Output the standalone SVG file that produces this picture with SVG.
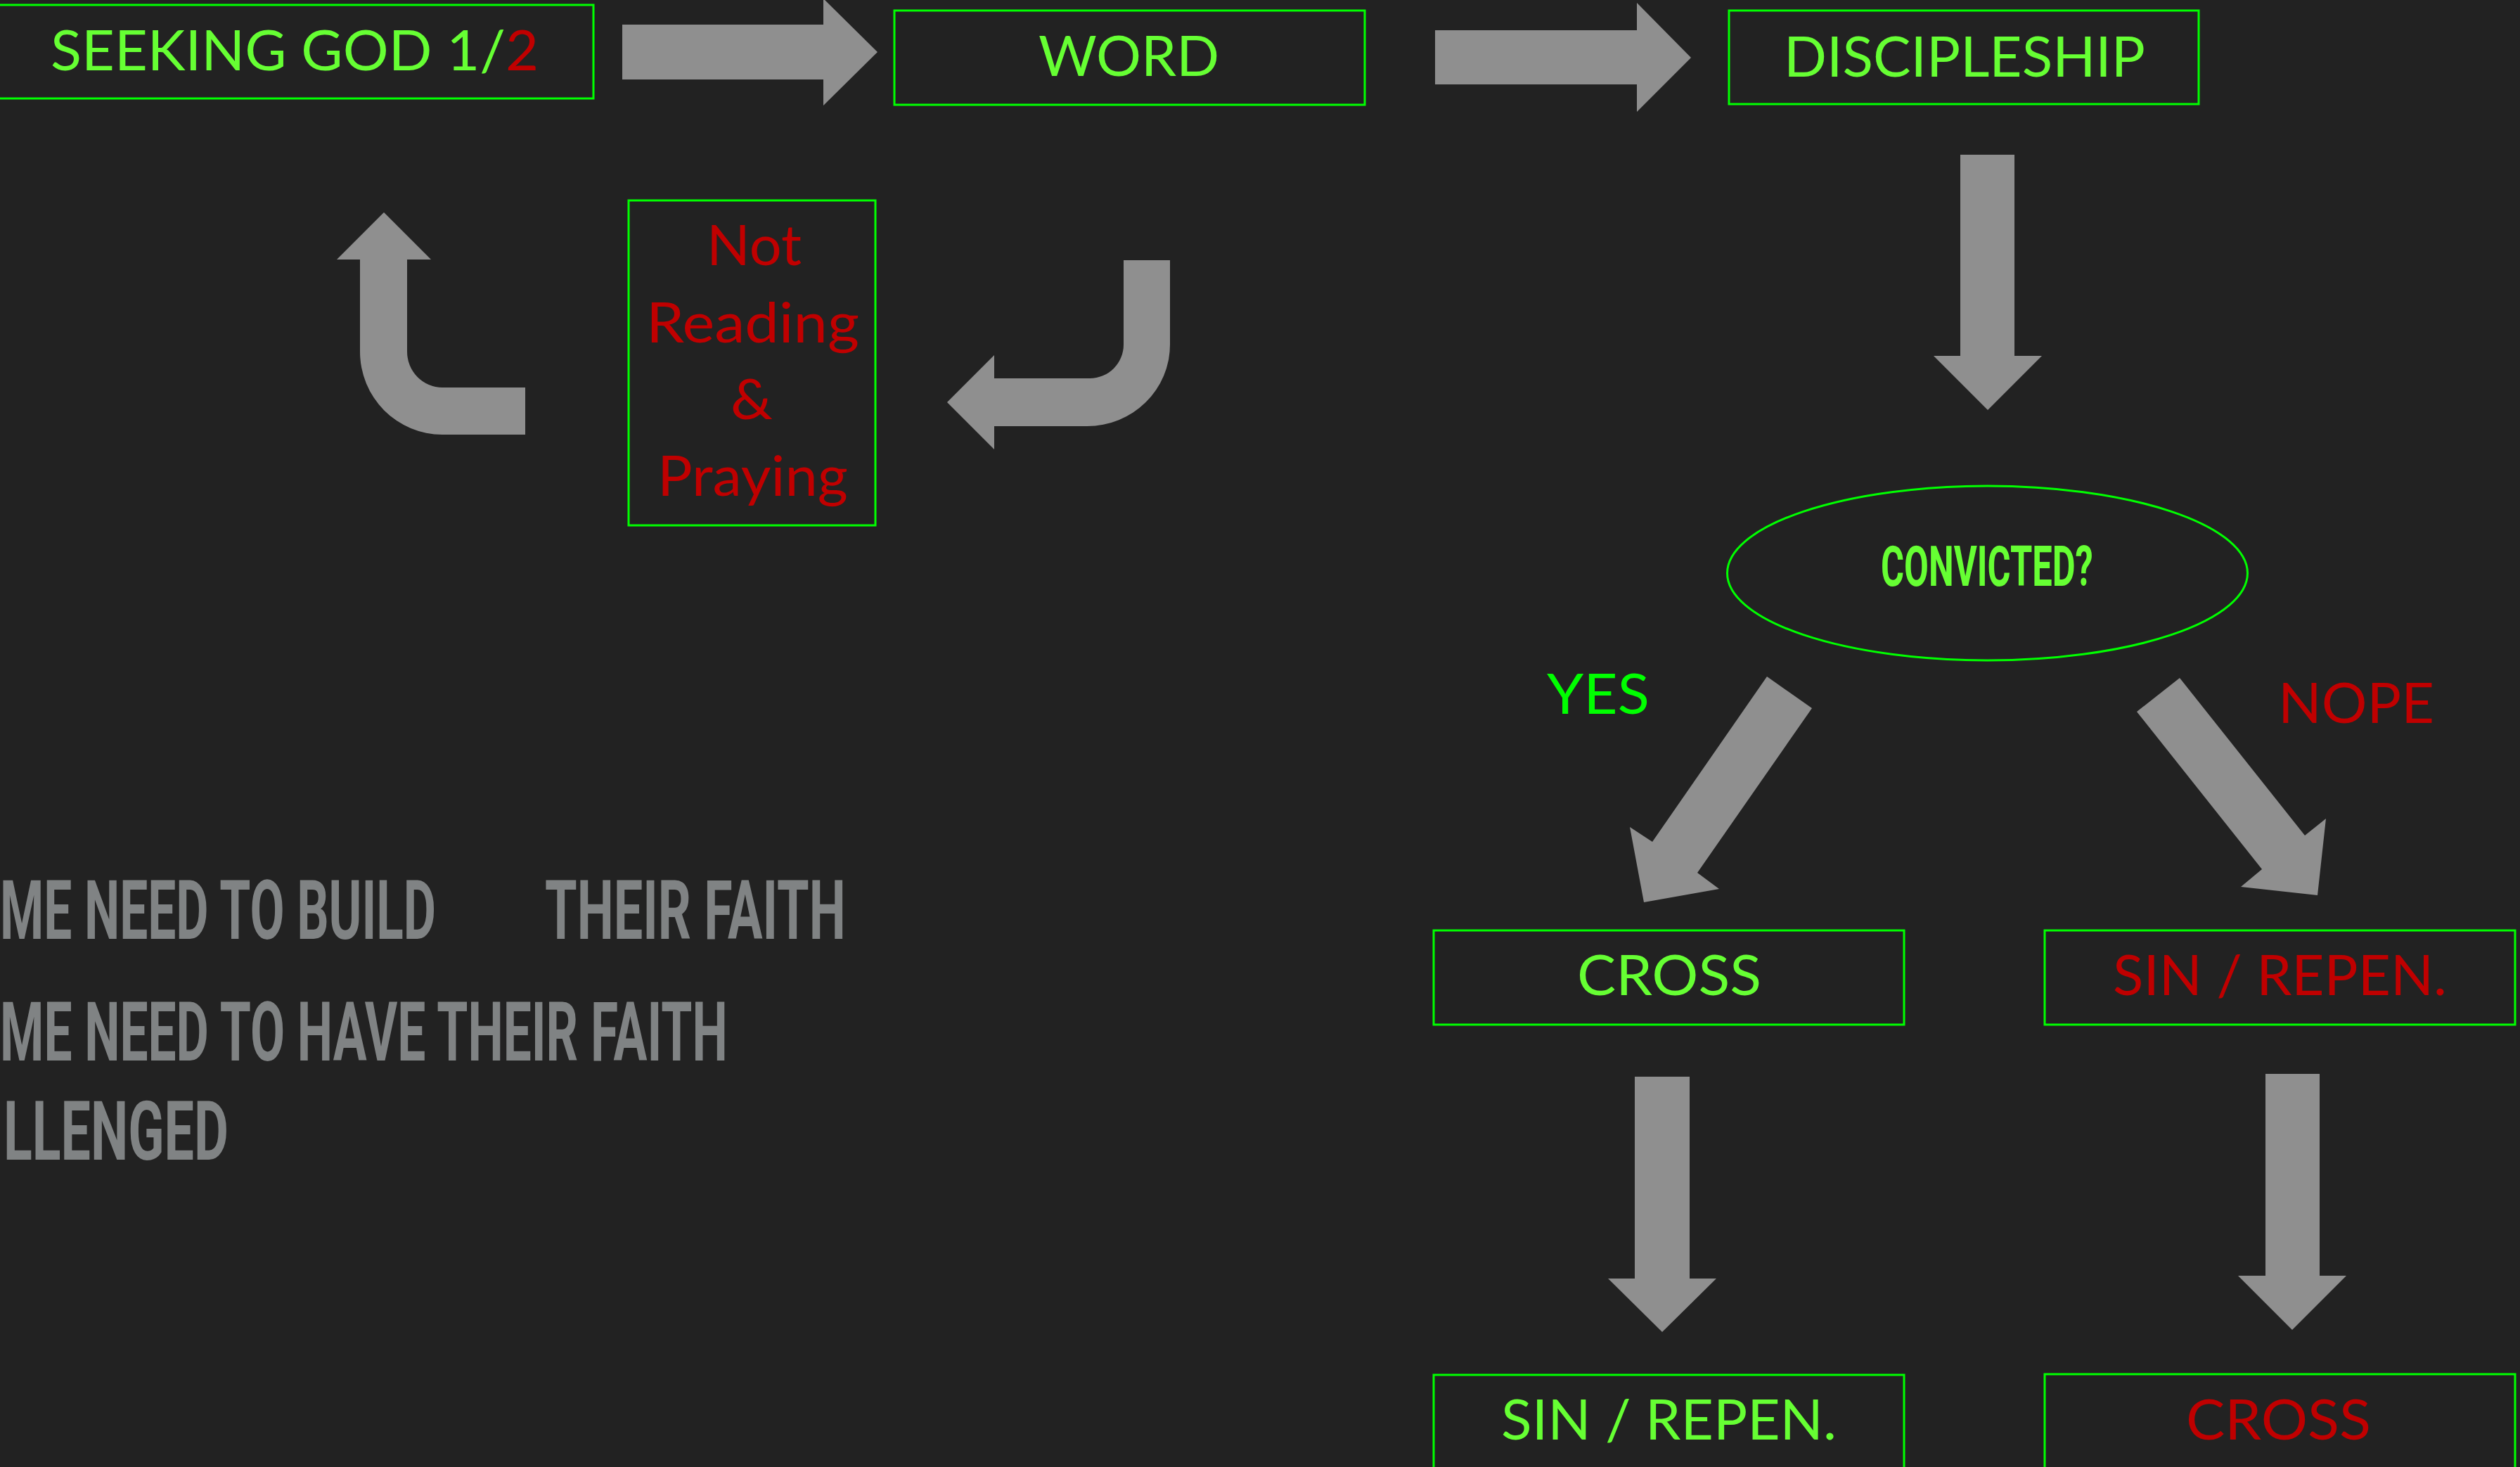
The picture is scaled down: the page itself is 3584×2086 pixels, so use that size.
<svg xmlns="http://www.w3.org/2000/svg" width="3584" height="2086" viewBox="0 0 3584 2086">
<style>
.bg{fill:#222222}
.box{fill:none;stroke:#00ff00;stroke-width:3}
.arrow{fill:#8f8f8f}
.t{font-family:Lato,"Noto Sans","Liberation Sans",sans-serif;font-size:80px}
.g{fill:#66ff33}
.r{fill:#c00000}
.y{fill:#00ff00}
.cond{font-family:Roboto,"Liberation Sans",sans-serif;font-weight:700}
.note{font-family:Roboto,"Liberation Sans",sans-serif;font-weight:700;font-size:116px;fill:#808384}
</style>
<rect class="bg" x="0" y="0" width="3584" height="2086"/>

<g id="connectors">
  <polygon class="arrow" points="885,35 1171,35 1171,-2 1248,74 1171,150 1171,113 885,113"/>
  <polygon class="arrow" points="2041,43 2328,43 2328,4 2405,82 2328,159 2328,120 2041,120"/>
  <polygon class="arrow" points="2788,220 2865,220 2865,506 2904,506 2827,583 2750,506 2788,506"/>
  <path class="arrow" d="M546,302 L613,369 L579,369 L579,500 A50,51 0 0 0 629,551 L747,551 L747,618 L629,618 A117,118 0 0 1 512,500 L512,369 L479,369 Z"/>
  <path class="arrow" d="M1598,370 L1664,370 L1664,490 A118,116 0 0 1 1546,606 L1414,606 L1414,639 L1347,572 L1414,505 L1414,538 L1550,538 A48,48 0 0 0 1598,490 Z"/>
  <polygon class="arrow" points="2513,962 2577,1007 2414,1241 2445,1264 2338,1283 2318,1176 2350,1197"/>
  <polygon class="arrow" points="3100,964 3278,1188 3308,1164 3296,1273 3187,1261 3217,1236 3039,1012"/>
  <polygon class="arrow" points="2325,1531 2403,1531 2403,1818 2441,1818 2364,1894 2287,1818 2325,1818"/>
  <polygon class="arrow" points="3222,1527 3299,1527 3299,1814 3337,1814 3260,1891 3183,1814 3222,1814"/>
</g>

<g id="node-seeking">
  <rect class="box" x="-20" y="7" width="864" height="133"/>
  <text class="t g" x="72" y="100" textLength="694" lengthAdjust="spacingAndGlyphs">SEEKING GOD 1/<tspan class="r">2</tspan></text>
</g>
<g id="node-word">
  <rect class="box" x="1272" y="15" width="669" height="134"/>
  <text class="t g" x="1477" y="108" textLength="257" lengthAdjust="spacingAndGlyphs">WORD</text>
</g>
<g id="node-discipleship">
  <rect class="box" x="2459" y="15" width="668" height="133"/>
  <text class="t g" x="2537" y="109" textLength="514" lengthAdjust="spacingAndGlyphs">DISCIPLESHIP</text>
</g>
<g id="node-not-reading">
  <rect class="box" x="894" y="285" width="351" height="462"/>
  <text class="t r" x="1005" y="377" textLength="135" lengthAdjust="spacingAndGlyphs">Not</text>
  <text class="t r" x="919" y="487" textLength="303" lengthAdjust="spacingAndGlyphs">Reading</text>
  <text class="t r" x="1039" y="596" textLength="60" lengthAdjust="spacingAndGlyphs">&amp;</text>
  <text class="t r" x="935" y="705" textLength="271" lengthAdjust="spacingAndGlyphs">Praying</text>
</g>
<g id="node-convicted">
  <ellipse class="box" cx="2826.5" cy="815" rx="370" ry="124"/>
  <text class="t g cond" transform="translate(2675,833) scale(0.63,1)" x="0" y="0" textLength="479" lengthAdjust="spacingAndGlyphs">CONVICTED?</text>
</g>
<g id="label-yes">
  <text class="t y" x="2200" y="1015" textLength="146" lengthAdjust="spacingAndGlyphs">YES</text>
</g>
<g id="label-nope">
  <text class="t r" x="3240" y="1028" textLength="222" lengthAdjust="spacingAndGlyphs">NOPE</text>
</g>
<g id="node-cross-yes">
  <rect class="box" x="2039" y="1323" width="669" height="134"/>
  <text class="t g" x="2243" y="1415" textLength="262" lengthAdjust="spacingAndGlyphs">CROSS</text>
</g>
<g id="node-sin-no">
  <rect class="box" x="2908" y="1323" width="669" height="134"/>
  <text class="t r" x="3005" y="1415" textLength="475" lengthAdjust="spacingAndGlyphs">SIN / REPEN.</text>
</g>
<g id="node-sin-yes">
  <rect class="box" x="2039" y="1955" width="669" height="134"/>
  <text class="t g" x="2135" y="2047" textLength="477" lengthAdjust="spacingAndGlyphs">SIN / REPEN.</text>
</g>
<g id="node-cross-no">
  <rect class="box" x="2908" y="1954" width="669" height="134"/>
  <text class="t r" x="3109" y="2047" textLength="263" lengthAdjust="spacingAndGlyphs">CROSS</text>
</g>

<g id="note">
  <text class="note" transform="translate(0,1335) scale(0.62,1)" x="0" y="0" textLength="1000" lengthAdjust="spacingAndGlyphs">ME NEED TO BUILD</text>
  <text class="note" transform="translate(775,1335) scale(0.62,1)" x="0" y="0" textLength="690" lengthAdjust="spacingAndGlyphs">THEIR FAITH</text>
  <text class="note" transform="translate(0,1508) scale(0.62,1)" x="0" y="0" textLength="1669" lengthAdjust="spacingAndGlyphs">ME NEED TO HAVE THEIR FAITH</text>
  <text class="note" transform="translate(5,1649) scale(0.62,1)" x="0" y="0" textLength="516" lengthAdjust="spacingAndGlyphs">LLENGED</text>
</g>
</svg>
